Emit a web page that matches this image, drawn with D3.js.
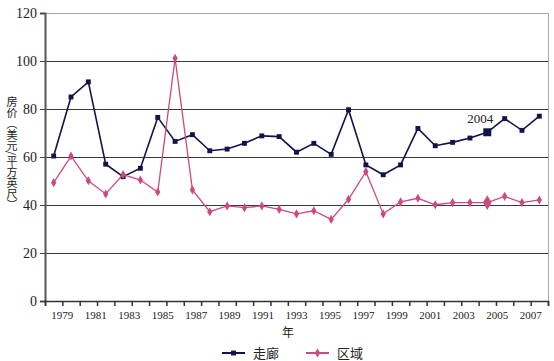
<!DOCTYPE html>
<html>
<head>
<meta charset="utf-8">
<script src="https://cdn.jsdelivr.net/npm/d3@7"></script>
<style>
  body { margin: 0; background: #fff; }
  svg { display: block; }
</style>
</head>
<body>
<div id="graph"><svg></svg></div>
<script>
// data
let years = ["1979", "1980", "1981", "1982", "1983", "1984", "1985", "1986", "1987", "1988",
  "1989", "1990", "1991", "1992", "1993", "1994", "1995", "1996", "1997", "1998",
  "1999", "2000", "2001", "2002", "2003", "2004", "2005", "2006", "2007"];
let corridor = [60.4, 85, 91.3, 57, 51.8, 55.3, 76.5, 66.5, 69.3, 62.6,
  63.3, 65.7, 68.8, 68.5, 62, 65.7, 61.1, 79.7, 56.7, 52.6,
  56.7, 71.9, 64.7, 66.1, 67.9, 70.3, 76, 71.1, 77];
let region = [49.3, 60.4, 50.1, 44.6, 52.7, 50.4, 45.4, 101.1, 46.3, 37.2,
  39.6, 38.9, 39.6, 38.2, 36.3, 37.6, 34, 42.4, 53.9, 36.3,
  41.3, 42.8, 40.1, 41, 41, 41, 43.6, 41, 42.1];
let labelYears = ["1979", "1981", "1983", "1985", "1987", "1989", "1991", "1993",
  "1995", "1997", "1999", "2001", "2003", "2005", "2007"];
let yTicks = [0, 20, 40, 60, 80, 100, 120];
let highlightYear = "2004";

let seriesNames = ["走廊", "区域"];
let yTitleText = "房价（美元/平方英尺）";
let navy = "#14124a";
let pink = "#cc4a80";

let width = 554, height = 361;
let margins = { top: 13, right: 6, bottom: 60, left: 45 };
let innerWidth = width - margins.left - margins.right;
let innerHeight = height - margins.top - margins.bottom;

let svg = d3.select("#graph svg").attr("width", width).attr("height", height);
let g = svg.append("g")
  .attr("transform", "translate(" + margins.left + "," + margins.top + ")");

// scales
let xScale = d3.scaleBand().domain(years).range([0, innerWidth]);
let yScale = d3.scaleLinear().domain([0, 120]).range([innerHeight, 0]);
let xCenter = (d) => xScale(d) + xScale.bandwidth() / 2;

// gridlines
g.append("g")
  .selectAll("line")
  .data(yTicks.slice(1, -1))
  .enter()
  .append("line")
  .attr("x1", 0)
  .attr("x2", innerWidth)
  .attr("y1", (d) => yScale(d) + 0.5)
  .attr("y2", (d) => yScale(d) + 0.5)
  .style("stroke", "#3a3a3a")
  .style("stroke-width", 1);

// top and right frame
g.append("path")
  .attr("d", "M0," + (yScale(120) + 0.5) + "H" + (innerWidth + 0.5) + "V" + innerHeight)
  .style("fill", "none")
  .style("stroke", "#a8a8a8");

// y axis
let yAxis = g.append("g")
  .call(d3.axisLeft(yScale).tickValues(yTicks).tickSize(5).tickPadding(3));
yAxis.select(".domain").style("stroke", "#555").style("stroke-width", 2);
yAxis.selectAll(".tick line").style("stroke", "#444");
yAxis.selectAll("text")
  .style("font-family", "'Liberation Serif', serif")
  .style("font-size", "14px")
  .style("fill", "#222");

// x axis: tick marks at band boundaries
let boundaries = years.map((d) => xScale(d)).concat([innerWidth]);
let xTickScale = d3.scaleLinear().domain([0, innerWidth]).range([0, innerWidth]);
let xAxis = g.append("g")
  .attr("transform", "translate(0," + innerHeight + ")")
  .call(d3.axisBottom(xTickScale).tickValues(boundaries).tickSize(5));
xAxis.selectAll(".tick text").remove(); // labels drawn separately below
xAxis.select(".domain").style("stroke", "#333").style("stroke-width", 1.5);
xAxis.selectAll(".tick line").style("stroke", "#333").style("stroke-width", 1.5);

// x labels spread from the 2nd boundary to the last one before the end
let labelScale = d3.scalePoint()
  .domain(labelYears)
  .range([xScale(years[1]), xScale(years[years.length - 1])]);
g.append("g")
  .selectAll("text")
  .data(labelYears)
  .enter()
  .append("text")
  .attr("x", (d) => labelScale(d))
  .attr("y", innerHeight + 18)
  .attr("text-anchor", "middle")
  .style("font-family", "'Liberation Serif', serif")
  .style("font-size", "11px")
  .style("fill", "#222")
  .text((d) => d);

// lines and markers
let line = d3.line()
  .x((d, i) => xCenter(years[i]))
  .y((d) => yScale(d));

function drawSeries(values, color, shape, lineW) {
  g.append("path")
    .datum(values)
    .attr("d", line)
    .style("fill", "none")
    .style("stroke", color)
    .style("stroke-width", lineW);
  g.append("g")
    .selectAll("path")
    .data(values)
    .enter()
    .append("path")
    .attr("transform", (d, i) => "translate(" + xCenter(years[i]) + "," + yScale(d) + ")")
    .attr("d", (d, i) => d3.symbol().type(shape).size(years[i] == highlightYear ? 64 : 24)())
    .style("fill", color);
}

drawSeries(corridor, navy, d3.symbolSquare, 1.6);
drawSeries(region, pink, d3.symbolDiamond, 1.3);

// 2004 annotation
let hi = years.indexOf(highlightYear);
g.append("text")
  .attr("x", xCenter(highlightYear) + 6)
  .attr("y", yScale(corridor[hi]) - 9)
  .attr("text-anchor", "end")
  .style("font-family", "'Liberation Serif', serif")
  .style("font-size", "13px")
  .style("fill", "#222")
  .text(highlightYear);

// y title, vertical
svg.append("text")
  .attr("x", 12)
  .attr("y", 153)
  .attr("text-anchor", "middle")
  .style("writing-mode", "vertical-rl")
  .style("font-family", "'Noto Sans CJK SC', sans-serif")
  .style("font-size", "11px")
  .style("fill", "#222")
  .text(yTitleText);

// x title
svg.append("text")
  .attr("x", 288)
  .attr("y", 337)
  .attr("text-anchor", "middle")
  .style("font-family", "'Noto Sans CJK SC', sans-serif")
  .style("font-size", "12px")
  .style("fill", "#222")
  .text("年");

// legend
let legendItems = [
  { name: seriesNames[0], color: navy, shape: d3.symbolSquare, x: 222 },
  { name: seriesNames[1], color: pink, shape: d3.symbolDiamond, x: 306 }
];
let legend = svg.append("g").attr("transform", "translate(0,353)");
legendItems.forEach(function (item) {
  legend.append("line")
    .attr("x1", item.x)
    .attr("x2", item.x + 23)
    .style("stroke", item.color)
    .style("stroke-width", 2);
  legend.append("path")
    .attr("transform", "translate(" + (item.x + 11.5) + ",0)")
    .attr("d", d3.symbol().type(item.shape).size(24)())
    .style("fill", item.color);
  legend.append("text")
    .attr("x", item.x + 31)
    .attr("y", 5)
    .style("font-family", "'Noto Sans CJK SC', sans-serif")
    .style("font-size", "13px")
    .style("fill", "#222")
    .text(item.name);
});
</script>
</body>
</html>
